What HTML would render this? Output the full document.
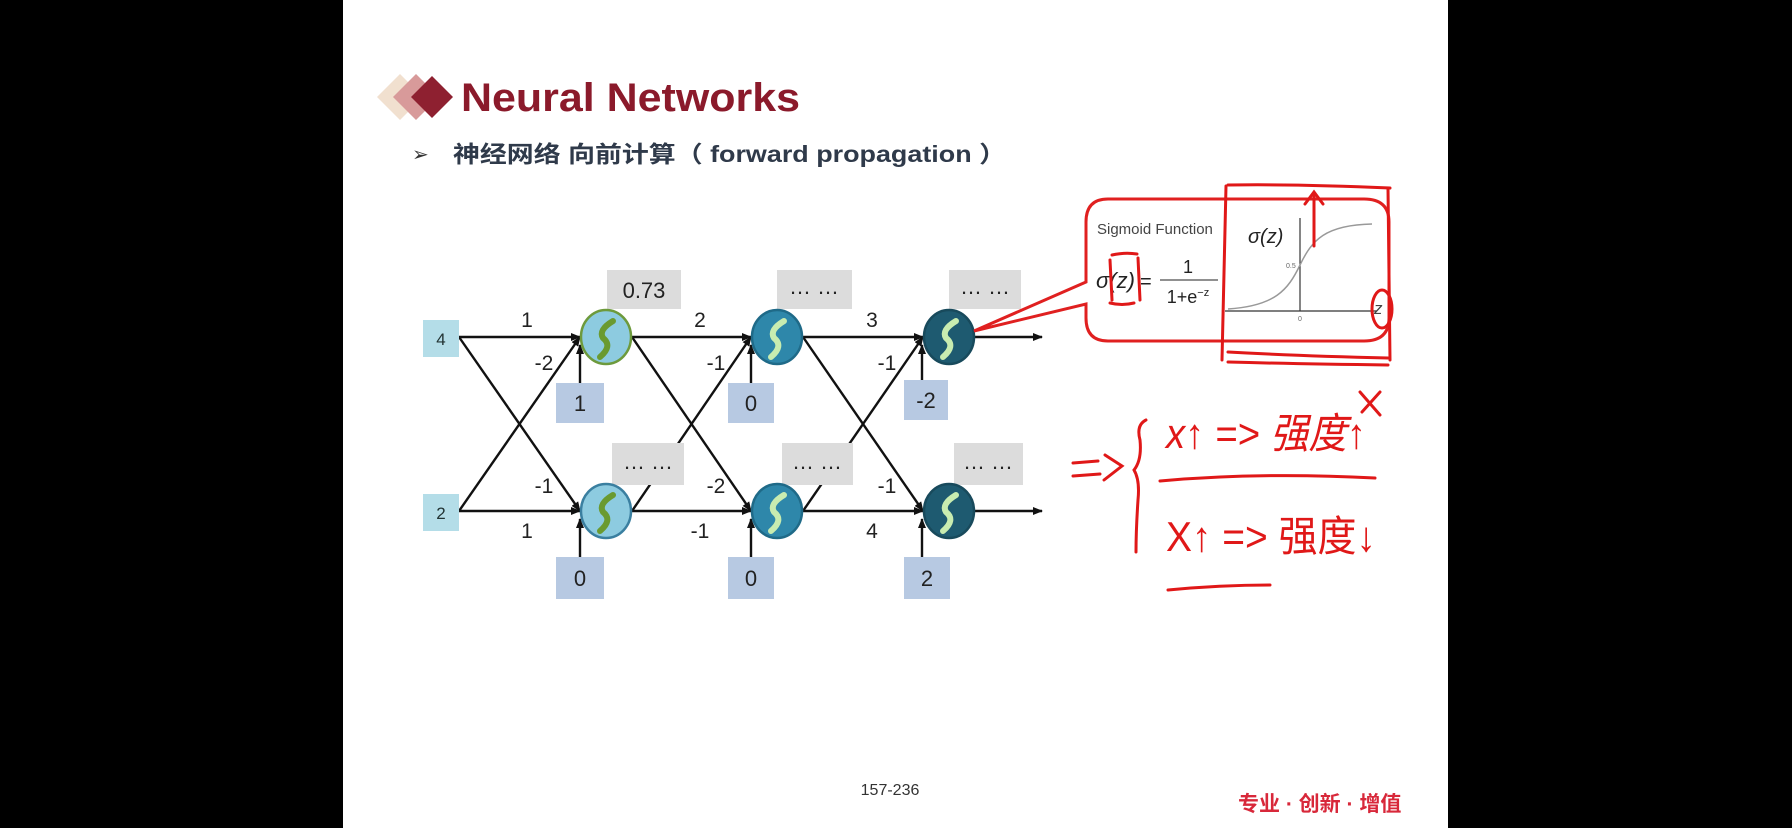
<!DOCTYPE html>
<html><head><meta charset="utf-8"><style>
html,body{margin:0;padding:0;background:#000;}
svg{display:block}
text{font-family:"Liberation Sans","Noto Sans CJK SC",sans-serif;}
</style></head><body>
<svg width="1792" height="828" viewBox="0 0 1792 828" xmlns="http://www.w3.org/2000/svg">
<defs>
<marker id="ar" markerWidth="10" markerHeight="10" refX="9" refY="5" orient="auto" markerUnits="userSpaceOnUse">
<path d="M0,1 L10,5 L0,9 Z" fill="#111"/></marker>
</defs>
<rect x="0" y="0" width="1792" height="828" fill="#000"/>
<rect x="343" y="0" width="1105" height="828" fill="#fff"/>

<polygon points="400,74 423,97 400,120 377,97" fill="#f1e0cf"/>
<polygon points="416,74 439,97 416,120 393,97" fill="#d89a9a"/>
<polygon points="432,76 453,97 432,118 411,97" fill="#8e2030"/>
<text x="461" y="111" font-size="40" font-weight="bold" fill="#8b1a2b" textLength="339" lengthAdjust="spacingAndGlyphs">Neural Networks</text>
<text x="412" y="161" font-size="20" fill="#333">➢</text>
<text x="453" y="162" font-size="23" font-weight="bold" fill="#2f3a4a" textLength="553" lengthAdjust="spacingAndGlyphs">神经网络 向前计算（  forward propagation ）</text>

<g stroke="#111" stroke-width="2.4" fill="none">
<line x1="459" y1="337" x2="580" y2="337" marker-end="url(#ar)"/>
<line x1="459" y1="337" x2="580" y2="511" marker-end="url(#ar)"/>
<line x1="459" y1="511" x2="580" y2="337" marker-end="url(#ar)"/>
<line x1="459" y1="511" x2="580" y2="511" marker-end="url(#ar)"/>
<line x1="632" y1="337" x2="751" y2="337" marker-end="url(#ar)"/>
<line x1="632" y1="337" x2="751" y2="511" marker-end="url(#ar)"/>
<line x1="632" y1="511" x2="751" y2="337" marker-end="url(#ar)"/>
<line x1="632" y1="511" x2="751" y2="511" marker-end="url(#ar)"/>
<line x1="803" y1="337" x2="923" y2="337" marker-end="url(#ar)"/>
<line x1="803" y1="337" x2="923" y2="511" marker-end="url(#ar)"/>
<line x1="803" y1="511" x2="923" y2="337" marker-end="url(#ar)"/>
<line x1="803" y1="511" x2="923" y2="511" marker-end="url(#ar)"/>
<line x1="975" y1="337" x2="1042" y2="337" marker-end="url(#ar)"/>
<line x1="975" y1="511" x2="1042" y2="511" marker-end="url(#ar)"/>
<line x1="580" y1="383" x2="580" y2="345" marker-end="url(#ar)"/>
<line x1="751" y1="383" x2="751" y2="345" marker-end="url(#ar)"/>
<line x1="922" y1="380" x2="922" y2="345" marker-end="url(#ar)"/>
<line x1="580" y1="557" x2="580" y2="519" marker-end="url(#ar)"/>
<line x1="751" y1="557" x2="751" y2="519" marker-end="url(#ar)"/>
<line x1="922" y1="557" x2="922" y2="519" marker-end="url(#ar)"/>
</g>

<rect x="423" y="320" width="36" height="37" fill="#b4dde8"/>
<text x="441" y="345" font-size="17" text-anchor="middle" font-family="Liberation Serif" fill="#233">4</text>
<rect x="423" y="494" width="36" height="37" fill="#b4dde8"/>
<text x="441" y="519" font-size="17" text-anchor="middle" font-family="Liberation Serif" fill="#233">2</text>

<g fill="#dcdcdc">
<rect x="607" y="270" width="74" height="39"/>
<rect x="777" y="270" width="75" height="39"/>
<rect x="949" y="270" width="72" height="39"/>
<rect x="612" y="443" width="72" height="42"/>
<rect x="782" y="443" width="71" height="42"/>
<rect x="954" y="443" width="69" height="42"/>
</g>
<g font-size="22" fill="#222" text-anchor="middle">
<text x="644" y="298">0.73</text>
<text x="814" y="294">… …</text>
<text x="985" y="294">… …</text>
<text x="648" y="469">… …</text>
<text x="817" y="469">… …</text>
<text x="988" y="469">… …</text>
</g>

<g fill="#b7c9e2">
<rect x="556" y="383" width="48" height="40"/>
<rect x="728" y="383" width="46" height="40"/>
<rect x="904" y="380" width="44" height="40"/>
<rect x="556" y="557" width="48" height="42"/>
<rect x="728" y="557" width="46" height="42"/>
<rect x="904" y="557" width="46" height="42"/>
</g>
<g font-size="22" fill="#222" text-anchor="middle">
<text x="580" y="411">1</text><text x="751" y="411">0</text><text x="926" y="408">-2</text>
<text x="580" y="586">0</text><text x="751" y="586">0</text><text x="927" y="586">2</text>
</g>

<g stroke-width="2.5">
<ellipse cx="606" cy="337" rx="25" ry="27" fill="#8dcbe0" stroke="#6d9a3c"/>
<ellipse cx="606" cy="511" rx="25" ry="27" fill="#8dcbe0" stroke="#3a7fa0"/>
<ellipse cx="777" cy="337" rx="25" ry="27" fill="#2e87aa" stroke="#1f6a88"/>
<ellipse cx="777" cy="511" rx="25" ry="27" fill="#2e87aa" stroke="#1f6a88"/>
<ellipse cx="949" cy="337" rx="25" ry="27" fill="#1e5a70" stroke="#184a5c"/>
<ellipse cx="949" cy="511" rx="25" ry="27" fill="#1e5a70" stroke="#184a5c"/>
</g>
<g fill="none" stroke-width="6" stroke-linecap="round">
<path d="M613,321 Q598,330 603,338 Q613,346 600,357" stroke="#6a9a30"/>
<path d="M613,495 Q598,504 603,512 Q613,520 600,531" stroke="#6a9a30"/>
<path d="M784,321 Q769,330 774,338 Q784,346 771,357" stroke="#c8ecb0"/>
<path d="M784,495 Q769,504 774,512 Q784,520 771,531" stroke="#c8ecb0"/>
<path d="M956,321 Q941,330 946,338 Q956,346 943,357" stroke="#c8ecb0"/>
<path d="M956,495 Q941,504 946,512 Q956,520 943,531" stroke="#c8ecb0"/>
</g>

<g font-size="21" fill="#222" text-anchor="middle">
<text x="527" y="327">1</text><text x="544" y="370">-2</text><text x="544" y="493">-1</text><text x="527" y="538">1</text>
<text x="700" y="327">2</text><text x="716" y="370">-1</text><text x="716" y="493">-2</text><text x="700" y="538">-1</text>
<text x="872" y="327">3</text><text x="887" y="370">-1</text><text x="887" y="493">-1</text><text x="872" y="538">4</text>
</g>

<path d="M1108,199 L1364,199 Q1389,199 1389,222 L1389,318 Q1389,341 1364,341 L1108,341 Q1086,341 1086,318 L1086,304 L974,331 L1086,282 L1086,222 Q1086,199 1108,199 Z" fill="#fff" stroke="#e02020" stroke-width="3"/>
<text x="1097" y="234" font-size="15" fill="#444">Sigmoid Function</text>
<text x="1096" y="288" font-size="22" font-family="Liberation Serif" font-style="italic" fill="#222">σ(z)</text>
<text x="1140" y="288" font-size="20" font-family="Liberation Serif" fill="#222">=</text>
<text x="1188" y="273" font-size="18" font-family="Liberation Serif" fill="#222" text-anchor="middle">1</text>
<line x1="1160" y1="280" x2="1218" y2="280" stroke="#222" stroke-width="1"/>
<text x="1188" y="303" font-size="18" font-family="Liberation Serif" fill="#222" text-anchor="middle">1+e<tspan font-size="11" dy="-7">−z</tspan></text>
<text x="1248" y="243" font-size="20" font-family="Liberation Serif" font-style="italic" fill="#222">σ(z)</text>
<line x1="1300" y1="311" x2="1300" y2="218" stroke="#333" stroke-width="1.2"/>
<line x1="1225" y1="311" x2="1377" y2="311" stroke="#333" stroke-width="1.2"/>
<path d="M1228,309 C1275,306 1288,290 1300,265 C1312,240 1325,225 1372,224" fill="none" stroke="#999" stroke-width="1.5"/>
<text x="1286" y="268" font-size="7" fill="#666">0.5</text>
<text x="1298" y="321" font-size="7" fill="#666">0</text>
<text x="1374" y="314" font-size="17" font-family="Liberation Serif" font-style="italic" fill="#444">z</text>

<g fill="none" stroke="#e01818" stroke-width="3" stroke-linecap="round">
<path d="M1228,185 Q1300,184 1390,188"/>
<path d="M1226,186 L1222,360"/>
<path d="M1388,188 L1390,360"/>
<path d="M1228,352 Q1300,356 1388,358"/>
<path d="M1228,362 Q1300,364 1388,365"/>
<path d="M1314,246 L1314,192 M1305,204 L1314,192 L1323,204"/>
<ellipse cx="1382" cy="309" rx="10" ry="19"/>
<path d="M1110,260 L1112,300 M1138,258 L1140,300 M1112,255 Q1125,252 1137,254 M1110,303 Q1122,306 1134,303"/>
<path d="M1073,463 L1098,461 M1073,476 L1100,474 M1105,455 L1122,466 L1104,480"/>
<path d="M1146,420 Q1136,425 1140,440 Q1142,460 1134,470 Q1140,480 1138,500 Q1136,530 1136,552"/>
<path d="M1160,481 Q1260,472 1375,478"/>
<path d="M1168,590 Q1220,585 1270,585"/>
<path d="M1360,392 L1380,415 M1380,392 L1362,412"/>
</g>
<g font-size="42" fill="#e01818">
<text x="1166" y="448" font-style="italic" textLength="200" lengthAdjust="spacingAndGlyphs">x↑ => 强度↑</text>
<text x="1166" y="551" textLength="210" lengthAdjust="spacingAndGlyphs">X↑ => 强度↓</text>
</g>

<text x="890" y="795" font-size="16" fill="#333" text-anchor="middle">157-236</text>
<text x="1238" y="811" font-size="21" fill="#d8283a" font-weight="bold">专业 · 创新 · 增值</text>
</svg>
</body></html>
